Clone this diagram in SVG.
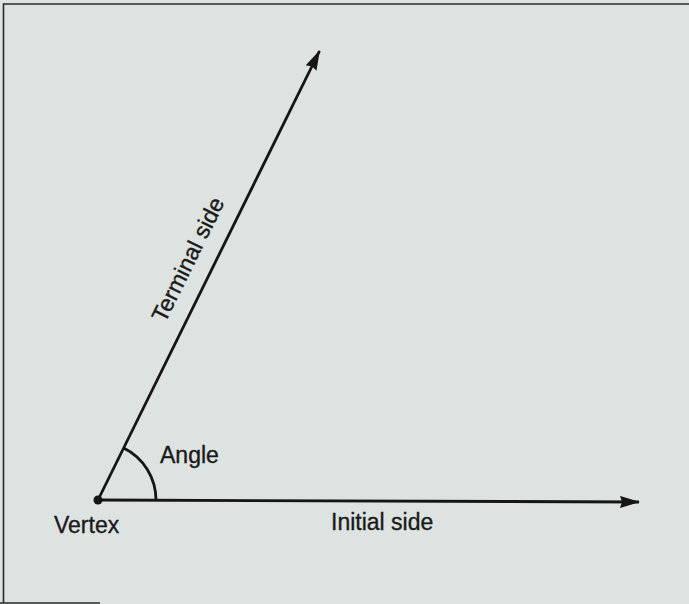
<svg xmlns="http://www.w3.org/2000/svg" width="689" height="604" viewBox="0 0 689 604">
  <style>
    .ray { stroke: #151515; stroke-width: 2.8; fill: none; }
    .frame { stroke: #2a2a2a; stroke-width: 1.6; fill: none; }
    .lbl { font-family: "Liberation Sans", Arial, sans-serif; font-size: 23px; fill: #1a1a1a; stroke: #1a1a1a; stroke-width: 0.35; }
  </style>
  <defs>
    <marker id="arrow" viewBox="0 0 20 12" refX="19" refY="6" markerWidth="20" markerHeight="12" markerUnits="userSpaceOnUse" orient="auto">
      <path d="M0,0 L20,6 L0,12 L2,6 Z" fill="#151515"/>
    </marker>
  </defs>
  <rect x="0" y="0" width="689" height="604" fill="#dde3e0"/>
  <g id="frame">
    <path class="frame" d="M3.5,603 L3.5,4 L689,4"/>
    <path class="frame" d="M0,603 L100,603"/>
  </g>
  <g id="connectors">
    <path id="initial-side" class="ray" d="M98,500 L639,502" marker-end="url(#arrow)"/>
    <path id="terminal-side" class="ray" d="M98,500 L319.5,51" marker-end="url(#arrow)"/>
    <path id="angle-arc" class="ray" stroke-width="2.3" d="M156,500.2 A58,58 0 0 0 123.7,448"/>
  </g>
  <g id="vertex">
    <circle cx="98" cy="500" r="4.5" fill="#151515"/>
    <text class="lbl" x="54" y="533">Vertex</text>
  </g>
  <g id="angle">
    <text class="lbl" x="160" y="463">Angle</text>
  </g>
  <g id="initial-label">
    <text class="lbl" x="331" y="530">Initial side</text>
  </g>
  <g id="terminal-label">
    <text class="lbl" x="195" y="263" text-anchor="middle" transform="rotate(-63.7 195 263)">Terminal side</text>
  </g>
</svg>
